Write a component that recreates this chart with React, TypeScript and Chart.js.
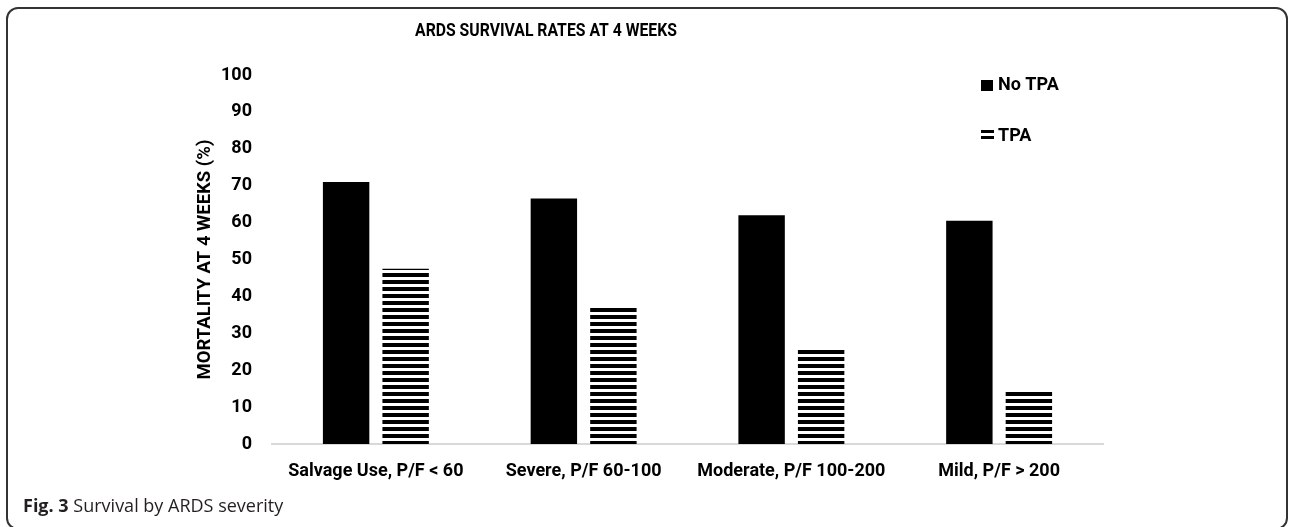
import React, { useEffect, useRef } from "react";
import { Chart, registerables } from "chart.js";

Chart.register(...registerables);

const categories = ["Salvage Use, P/F < 60", "Severe, P/F 60-100", "Moderate, P/F 100-200", "Mild, P/F > 200"];
const noTpaValues = [71, 66.5, 62, 60.5];
const tpaValues = [47.5, 37.3, 26, 14.5];
const seriesLabels = ["No TPA", "TPA"];
const yMin = 0;
const yMax = 100;
const yStep = 10;
const chartTitle = "ARDS SURVIVAL RATES AT 4 WEEKS";
const yAxisTitle = "MORTALITY AT 4 WEEKS (%)";
const captionBold = "Fig. 3";
const captionText = " Survival by ARDS severity";

const FONT = "Roboto, sans-serif";

function makeStripePattern(): CanvasPattern | string {
  const c = document.createElement("canvas");
  c.width = 8;
  c.height = 7;
  const ctx = c.getContext("2d");
  if (!ctx) return "#000";
  ctx.fillStyle = "#000";
  ctx.fillRect(0, 0, 8, 4);
  return ctx.createPattern(c, "repeat") || "#000";
}

const titlePlugin = {
  id: "customTitle",
  afterDraw(chart: any) {
    const ctx = chart.ctx;
    const { left } = chart.chartArea;
    ctx.save();
    ctx.font = `bold 19px ${FONT}`;
    ctx.fillStyle = "#000";
    ctx.textAlign = "center";
    ctx.textBaseline = "middle";
    ctx.translate(left + 274, 31);
    ctx.scale(0.83, 1);
    ctx.fillText(chartTitle, 0, 0);
    ctx.restore();
  },
};

const legendPlugin = {
  id: "customLegend",
  afterDraw(chart: any) {
    const ctx = chart.ctx;
    const { right, top } = chart.chartArea;
    const x = right - 122;
    ctx.save();
    ctx.font = `bold 18px ${FONT}`;
    ctx.textBaseline = "middle";
    ctx.textAlign = "left";
    ctx.fillStyle = "#000";
    chart.data.datasets.forEach((ds: any, i: number) => {
      const cy = top + 10 + i * 49;
      if (i === 0) {
        ctx.fillRect(x, cy - 5, 12, 11);
      } else {
        ctx.fillRect(x, cy - 4, 13, 3);
        ctx.fillRect(x, cy + 2, 13, 3);
      }
      ctx.fillText(ds.label, x + 17, cy + (i === 0 ? 0 : 2));
    });
    ctx.restore();
  },
};

export default function App() {
  const ref = useRef<HTMLCanvasElement | null>(null);

  useEffect(() => {
    if (!ref.current) return;
    const stripe = makeStripePattern();
    const tickFont = { family: FONT, size: 18, weight: "bold" as const };
    const chart = new Chart(ref.current, {
      type: "bar",
      data: {
        labels: categories,
        datasets: [
          {
            label: seriesLabels[0],
            data: noTpaValues,
            backgroundColor: "#000",
            borderWidth: 0,
            categoryPercentage: 0.573,
            barPercentage: 0.78,
          },
          {
            label: seriesLabels[1],
            data: tpaValues,
            backgroundColor: stripe as any,
            borderWidth: 0,
            categoryPercentage: 0.573,
            barPercentage: 0.78,
          },
        ],
      },
      options: {
        responsive: false,
        animation: false,
        layout: { padding: { left: 180, right: 186, top: 75, bottom: 0 } },
        plugins: {
          legend: { display: false },
          tooltip: { enabled: false },
          title: { display: false },
        },
        scales: {
          x: {
            grid: { display: false, drawTicks: false },
            border: { display: true, color: "#d9d9d9", width: 2 },
            ticks: { font: tickFont, color: "#000", padding: 17, maxRotation: 0, autoSkip: false },
            afterFit: (s: any) => {
              s.height = 83;
            },
          },
          y: {
            min: yMin,
            max: yMax,
            ticks: { stepSize: yStep, padding: 20, font: tickFont, color: "#000" },
            grid: { display: false, drawTicks: false },
            border: { display: false },
            title: {
              display: true,
              text: yAxisTitle,
              font: { family: FONT, size: 18.5, weight: "bold" },
              color: "#000",
              padding: { top: 14, bottom: 0 },
            },
            afterFit: (s: any) => {
              s.width = 92;
            },
          },
        },
      },
      plugins: [titlePlugin, legendPlugin],
    });
    return () => chart.destroy();
  }, []);

  return (
    <div style={{ position: "fixed", left: 0, top: 0, width: 1289, height: 527, background: "#fff", overflow: "hidden" }}>
      <canvas ref={ref} width={1289} height={527} style={{ position: "absolute", left: 0, top: 0, width: 1289, height: 527 }} />
      <div
        style={{
          position: "absolute",
          left: 6,
          top: 7,
          width: 1282,
          height: 523,
          border: "2px solid #333",
          borderRadius: 12,
          boxSizing: "border-box",
          pointerEvents: "none",
        }}
      />
      <div
        style={{
          position: "absolute",
          left: 23,
          top: 493,
          fontFamily: "'Open Sans', sans-serif",
          fontSize: 18,
          lineHeight: "24px",
          color: "#231f20",
          whiteSpace: "nowrap",
        }}
      >
        <b>{captionBold}</b>
        {captionText}
      </div>
    </div>
  );
}
